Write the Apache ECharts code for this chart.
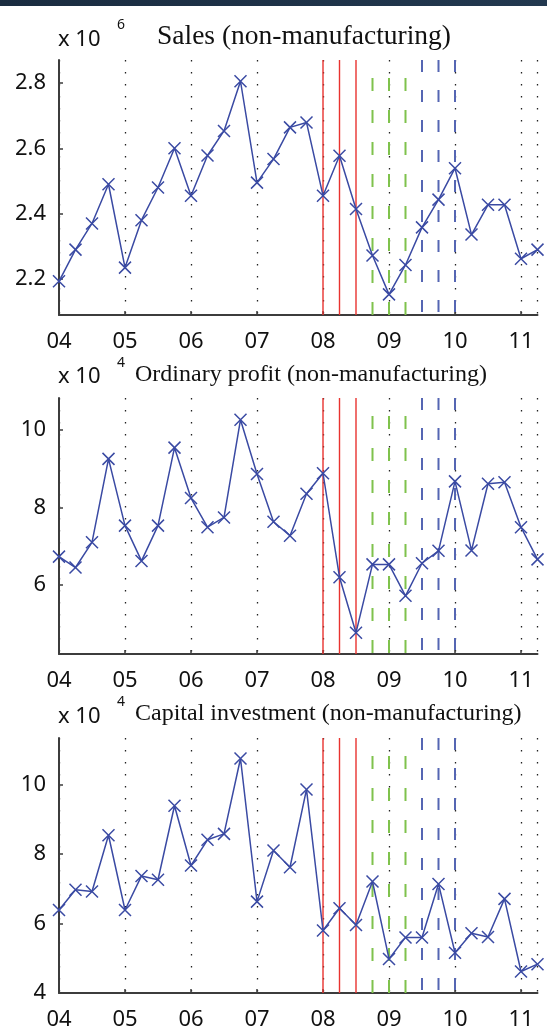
<!DOCTYPE html>
<html>
<head>
<meta charset="utf-8">
<script src="https://cdn.jsdelivr.net/npm/echarts@6/dist/echarts.min.js"></script>
<style>
html,body{margin:0;padding:0;background:#fff;}
#c{width:547px;height:1031px;}
</style>
</head>
<body>
<div id="c"></div>
<script>
// ---- data ----
const quarters = [2004.00, 2004.25, 2004.50, 2004.75, 2005.00, 2005.25, 2005.50, 2005.75,
                  2006.00, 2006.25, 2006.50, 2006.75, 2007.00, 2007.25, 2007.50, 2007.75,
                  2008.00, 2008.25, 2008.50, 2008.75, 2009.00, 2009.25, 2009.50, 2009.75,
                  2010.00, 2010.25, 2010.50, 2010.75, 2011.00, 2011.25];
const sales = [2.193, 2.290, 2.370, 2.490, 2.235, 2.380, 2.480, 2.600, 2.455, 2.578, 2.653, 2.805,
               2.495, 2.567, 2.664, 2.679, 2.455, 2.577, 2.414, 2.272, 2.153, 2.243, 2.358, 2.443,
               2.539, 2.336, 2.427, 2.427, 2.262, 2.290];
const profit = [6.73, 6.45, 7.10, 9.25, 7.53, 6.62, 7.53, 9.54, 8.24, 7.49, 7.74, 10.26,
                8.86, 7.63, 7.27, 8.35, 8.88, 6.20, 4.77, 6.53, 6.53, 5.72, 6.56, 6.88,
                8.67, 6.89, 8.61, 8.65, 7.49, 6.66];
const capex = [6.39, 6.97, 6.92, 8.54, 6.39, 7.37, 7.26, 9.39, 7.67, 8.41, 8.58, 10.75,
               6.63, 8.10, 7.62, 9.86, 5.80, 6.44, 5.96, 7.21, 4.98, 5.60, 5.60, 7.14,
               5.16, 5.72, 5.61, 6.71, 4.62, 4.83];
const yearLabels = ['04', '05', '06', '07', '08', '09', '10', '11'];
const yearTicks = [2004, 2005, 2006, 2007, 2008, 2009, 2010, 2011];
const redLines = [2008.00, 2008.25, 2008.50];
const greenLines = [2008.75, 2009.00, 2009.25];
const blueLines = [2009.50, 2009.75, 2010.00];
const titles = ['Sales (non-manufacturing)', 'Ordinary profit (non-manufacturing)', 'Capital investment (non-manufacturing)'];
const exponents = ['6', '4', '4'];
const ticks1 = [2.2, 2.4, 2.6, 2.8];
const ticks2 = [6, 8, 10];
const ticks3 = [4, 6, 8, 10];

// ---- layout / style ----
const panels = [
  {data: sales,  ticks: ticks1, min: 2.09, max: 2.87, top: 60,  height: 255, titleY: 37,  titleX: 157, titleSize: 27.5, expY: 25,  x10Y: 40},
  {data: profit, ticks: ticks2, min: 4.22, max: 10.82, top: 398, height: 256, titleY: 375, titleX: 135, titleSize: 24, expY: 363, x10Y: 377},
  {data: capex,  ticks: ticks3, min: 4.0,  max: 11.34, top: 738, height: 255, titleY: 714, titleX: 135, titleSize: 24, expY: 702, x10Y: 717}
];
const LINE = '#3a4aa3';
const AXIS = '#3c3c3c';
const tickFont = '"Noto Sans", sans-serif';

const grids = [], xAxes = [], yAxes = [], series = [], graphics = [];
graphics.push({type: 'rect', shape: {x: 0, y: 0, width: 547, height: 6},
  style: {fill: new echarts.graphic.LinearGradient(0, 0, 1, 0, [{offset: 0, color: '#1a2c40'}, {offset: 1, color: '#22384f'}])}});

panels.forEach((p, i) => {
  grids.push({left: 59, right: 9.5, top: p.top, height: p.height, containLabel: false});
  xAxes.push({
    type: 'value', gridIndex: i, min: 2004, max: 2011.25, interval: 1,
    axisLine: {show: true, onZero: false, lineStyle: {color: AXIS, width: 2}},
    axisTick: {show: true, inside: true, length: 4, lineStyle: {color: AXIS, width: 1.5}},
    axisLabel: {show: true, margin: 16, fontFamily: tickFont, fontSize: 22, color: '#111',
      formatter: v => { const k = yearTicks.indexOf(Math.round(v)); return k >= 0 ? yearLabels[k] : ''; }},
    splitLine: {show: true, lineStyle: {color: '#222', width: 1.3, type: [1.5, 10.5]}}
  });
  yAxes.push({
    type: 'value', gridIndex: i, min: p.min, max: p.max,
    axisLine: {show: true, onZero: false, lineStyle: {color: AXIS, width: 2}},
    axisTick: {show: true, inside: true, length: 4, customValues: p.ticks, lineStyle: {color: AXIS, width: 1.5}},
    axisLabel: {show: true, margin: 13, fontFamily: tickFont, fontSize: 22, color: '#111', customValues: p.ticks,
      formatter: v => String(v)},
    splitLine: {show: false}
  });
  const vline = (x, color, type, offset, width) => ({
    type: 'line', xAxisIndex: i, yAxisIndex: i, silent: true, symbol: 'none', z: 1,
    data: [[x, p.max], [x, p.min]],
    lineStyle: {color: color, width: width, type: type, dashOffset: offset}
  });
  redLines.forEach(x => series.push(vline(x, '#e8332f', 'solid', 0, 1.4)));
  greenLines.forEach(x => series.push(vline(x, '#7fc24c', [13, 19], 14, 2)));
  blueLines.forEach(x => series.push(vline(x, '#5566b3', [12, 18], 0, 2)));
  series.push({
    type: 'line', xAxisIndex: i, yAxisIndex: i, z: 5,
    data: quarters.map((q, k) => [q, p.data[k]]),
    symbol: 'path://M0,0L10,10M0,10L10,0', symbolSize: 12,
    itemStyle: {color: 'rgba(0,0,0,0)', borderColor: LINE, borderWidth: 1.5},
    lineStyle: {color: LINE, width: 1.5},
    clip: true
  });
  graphics.push({type: 'text', style: {x: p.titleX, y: p.titleY, text: titles[i], fill: '#111',
    font: p.titleSize + 'px "Liberation Serif", "Times New Roman", serif', textVerticalAlign: 'middle'}});
  graphics.push({type: 'text', style: {x: 58, y: p.x10Y, text: 'x 10', fill: '#111',
    font: '22px ' + tickFont, textVerticalAlign: 'middle'}});
  graphics.push({type: 'text', style: {x: 117, y: p.expY, text: exponents[i], fill: '#111',
    font: '14px ' + tickFont, textVerticalAlign: 'middle'}});
});

const chart = echarts.init(document.getElementById('c'), null, {renderer: 'canvas'});
chart.setOption({
  animation: false,
  backgroundColor: '#fff',
  grid: grids, xAxis: xAxes, yAxis: yAxes, series: series,
  graphic: graphics
});
</script>
</body>
</html>
